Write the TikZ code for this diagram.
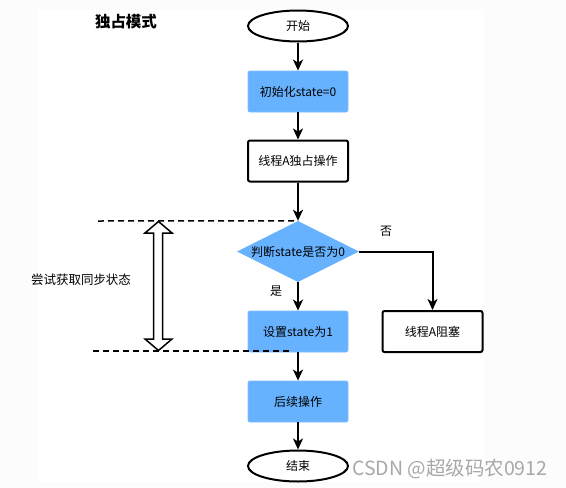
\documentclass[tikz,border=0pt]{standalone}
\usepackage{fontspec}
\setmainfont{Noto Sans CJK SC}
\usetikzlibrary{shapes.geometric,arrows.meta}
\definecolor{bluefill}{HTML}{66B2FF}
\definecolor{pagebg}{HTML}{FCFCFC}
\definecolor{wmgray}{HTML}{A8A8A8}
\tikzset{
  procbox/.style={rectangle, rounded corners=2pt, minimum width=100pt, minimum height=41pt, inner sep=0pt, font=\fontsize{12}{14}\selectfont},
  bluebox/.style={procbox, fill=bluefill, draw=bluefill!85!white, line width=0.8pt},
  whitebox/.style={procbox, draw=black, line width=2pt, fill=white},
  terminal/.style={ellipse, draw=black, line width=2pt, fill=white, minimum width=100pt, minimum height=31pt, inner sep=0pt, font=\fontsize{12}{14}\selectfont},
  decision/.style={diamond, fill=bluefill, minimum width=122pt, minimum height=61pt, inner sep=0pt, aspect=2, font=\fontsize{12}{14}\selectfont},
  flow/.style={draw=black, line width=2pt, -{Stealth[length=11pt,width=10pt,inset=3pt]}},
  guide/.style={draw=black, line width=1.5pt, dash pattern=on 6pt off 4pt},
  lbl/.style={font=\fontsize{12}{14}\selectfont, inner sep=0pt}
}
\begin{document}
\begin{tikzpicture}[x=1pt,y=-1pt]
\fill[pagebg] (0,0) rectangle (566,488);
\fill[white] (38,10) rectangle (484,482);
\useasboundingbox (0,0) rectangle (566,488);

\node[font=\fontsize{15.5}{17}\selectfont\bfseries, inner sep=0pt] (title) at (126,22) {独占模式};

\node[terminal] (start) at (298,26) {开始};
\node[bluebox] (init) at (298,91.5) {初始化state=0};
\node[whitebox] (own) at (298,161) {线程A独占操作};
\node[decision] (judge) at (298,251.5) {判断state是否为0};
\node[bluebox] (set) at (298,331.5) {设置state为1};
\node[whitebox] (block) at (432.5,331.5) {线程A阻塞};
\node[bluebox] (next) at (298,401.5) {后续操作};
\node[terminal] (finish) at (298,466) {结束};

\draw[flow] (start) -- (init);
\draw[flow] (init) -- (own);
\draw[flow] (own) -- (judge);
\draw[flow] (judge) -- (set);
\draw[flow] (judge.east) -| (block.north);
\draw[flow] (set) -- (next);
\draw[flow] (next) -- (finish);

\node[lbl] (no) at (386,231) {否};
\node[lbl] (yes) at (276,291) {是};

\coordinate (g1) at (98,221);
\coordinate (g2) at (93,351);
\coordinate (g2e) at (292,351);
\draw[guide] (g1) -- (judge.north);
\draw[guide] (g2) -- (g2e);

% hollow double arrow
\draw[line width=1.5pt, fill=white, line join=miter]
  (158.5,221.5) -- (172,233) -- (162.5,233) -- (162.5,339) -- (172,339)
  -- (158.5,350.5) -- (145,339) -- (153.5,339) -- (153.5,233) -- (145,233) -- cycle;

\node[font=\fontsize{12.5}{14}\selectfont, inner sep=0pt] (sync) at (81,280) {尝试获取同步状态};

\node[font=\fontsize{19.5}{22}\selectfont, text=wmgray, inner sep=0pt, anchor=west] (wm) at (352,469) {CSDN @超级码农0912};
\end{tikzpicture}
\end{document}
